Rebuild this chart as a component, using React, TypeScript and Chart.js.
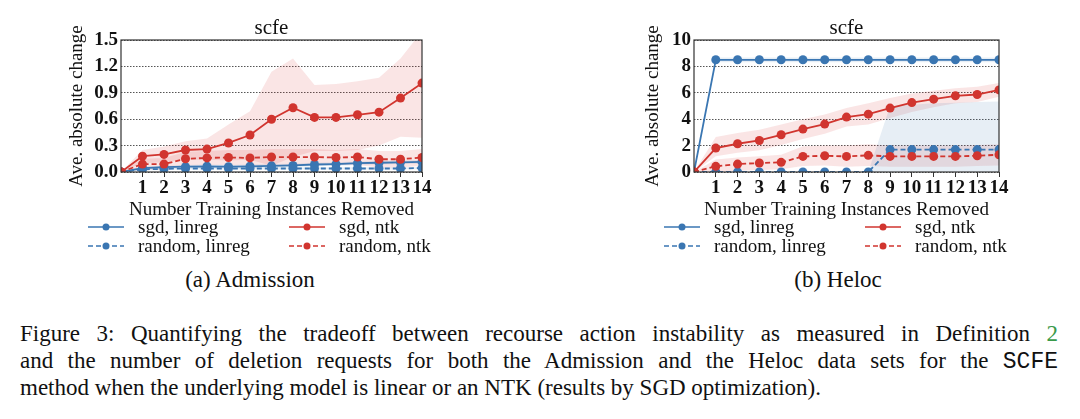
import React, { useEffect, useRef } from 'react';
import { Chart, registerables } from 'chart.js';

Chart.register(...registerables);

// ---------------- data ----------------
const xValues = [0, 1, 2, 3, 4, 5, 6, 7, 8, 9, 10, 11, 12, 13, 14];
const xTickValues = [1, 2, 3, 4, 5, 6, 7, 8, 9, 10, 11, 12, 13, 14];

const seriesLabels = ['sgd, linreg', 'random, linreg', 'sgd, ntk', 'random, ntk'];

// (a) Admission
const admYTicks = [0, 0.3, 0.6, 0.9, 1.2, 1.5];
const admSgdLin = [0, 0.045, 0.055, 0.06, 0.065, 0.06, 0.065, 0.07, 0.075, 0.085, 0.09, 0.1, 0.105, 0.11, 0.115];
const admSgdLinUpper = [0, 0.06, 0.07, 0.08, 0.085, 0.08, 0.085, 0.09, 0.095, 0.105, 0.11, 0.12, 0.125, 0.13, 0.135];
const admSgdLinLower = [0, 0.03, 0.04, 0.04, 0.045, 0.04, 0.045, 0.05, 0.055, 0.065, 0.07, 0.08, 0.085, 0.09, 0.095];
const admRandLin = [0, 0.03, 0.035, 0.04, 0.04, 0.04, 0.04, 0.04, 0.04, 0.04, 0.04, 0.04, 0.04, 0.04, 0.045];
const admRandLinUpper = [0, 0.042, 0.048, 0.053, 0.053, 0.053, 0.053, 0.053, 0.053, 0.053, 0.053, 0.053, 0.053, 0.053, 0.058];
const admRandLinLower = [0, 0.018, 0.022, 0.027, 0.027, 0.027, 0.027, 0.027, 0.027, 0.027, 0.027, 0.027, 0.027, 0.027, 0.032];
const admSgdNtk = [0, 0.18, 0.2, 0.25, 0.26, 0.33, 0.42, 0.6, 0.73, 0.62, 0.62, 0.65, 0.68, 0.84, 1.01];
const admSgdNtkUpper = [0, 0.25, 0.29, 0.35, 0.38, 0.54, 0.69, 1.14, 1.29, 0.99, 1.0, 1.03, 1.07, 1.29, 1.6];
const admSgdNtkLower = [0, 0.1, 0.11, 0.14, 0.14, 0.13, 0.14, 0.07, 0.17, 0.24, 0.24, 0.25, 0.3, 0.4, 0.39];
const admRandNtk = [0, 0.09, 0.09, 0.15, 0.16, 0.165, 0.16, 0.17, 0.17, 0.17, 0.165, 0.17, 0.145, 0.145, 0.165];
const admRandNtkUpper = [0, 0.15, 0.16, 0.23, 0.24, 0.25, 0.25, 0.26, 0.26, 0.26, 0.25, 0.26, 0.24, 0.24, 0.26];
const admRandNtkLower = [0, 0.03, 0.02, 0.07, 0.08, 0.08, 0.07, 0.08, 0.08, 0.08, 0.08, 0.08, 0.05, 0.05, 0.07];

// (b) Heloc
const helYTicks = [0, 2, 4, 6, 8, 10];
const helSgdLin = [0, 8.5, 8.5, 8.5, 8.5, 8.5, 8.5, 8.5, 8.5, 8.5, 8.5, 8.5, 8.5, 8.5, 8.5];
const helSgdLinUpper = [0, 8.68, 8.68, 8.68, 8.68, 8.68, 8.68, 8.68, 8.68, 8.68, 8.68, 8.68, 8.68, 8.68, 8.68];
const helSgdLinLower = [0, 8.32, 8.32, 8.32, 8.32, 8.32, 8.32, 8.32, 8.32, 8.32, 8.32, 8.32, 8.32, 8.32, 8.32];
const helRandLin = [0, 0, 0, 0, 0, 0, 0, 0, 0, 1.7, 1.7, 1.7, 1.7, 1.7, 1.7];
const helRandLinUpper = [0, 0, 0, 0, 0, 0, 0, 0, 0, 5.0, 5.1, 5.2, 5.25, 5.3, 5.35];
const helRandLinLower = [0, 0, 0, 0, 0, 0, 0, 0, 0, -1.6, -1.7, -1.8, -1.85, -1.9, -1.95];
const helSgdNtk = [0, 1.81, 2.14, 2.39, 2.82, 3.25, 3.63, 4.16, 4.38, 4.84, 5.26, 5.52, 5.77, 5.87, 6.22];
const helSgdNtkUpper = [0, 2.65, 2.95, 3.2, 3.6, 4.0, 4.35, 4.85, 5.2, 5.6, 5.95, 6.15, 6.35, 6.45, 6.75];
const helSgdNtkLower = [0, 1.2, 1.45, 1.65, 2.05, 2.5, 2.9, 3.45, 3.6, 4.1, 4.55, 4.9, 5.2, 5.3, 5.7];
const helRandNtk = [0, 0.43, 0.6, 0.68, 0.73, 1.18, 1.23, 1.18, 1.26, 1.18, 1.18, 1.18, 1.18, 1.23, 1.31];
const helRandNtkUpper = [0, 0.95, 1.1, 1.2, 1.3, 1.95, 2.0, 2.0, 2.1, 2.0, 2.0, 2.0, 2.0, 2.05, 2.1];
const helRandNtkLower = [0, 0.0, 0.1, 0.15, 0.2, 0.45, 0.5, 0.4, 0.45, 0.4, 0.4, 0.4, 0.4, 0.45, 0.5];

// ---------------- styles ----------------
const RED = '#d1352f';
const BLUE = '#3a76b2';
const RED_BAND = 'rgba(214,39,40,0.12)';
const BLUE_BAND = 'rgba(58,117,176,0.12)';
const SERIF = "'Liberation Serif', 'Times New Roman', serif";
const MONO = "'Liberation Mono', 'DejaVu Sans Mono', monospace";

type SeriesSpec = {
  label: string;
  color: string;
  band: string;
  dashed: boolean;
  values: number[];
  upper: number[];
  lower: number[];
};

type PanelSpec = {
  left: number;
  yAxisWidth: number;
  rightPad: number;
  yTicks: number[];
  decimals: number;
  series: SeriesSpec[];
};

const makeSeries = (
  sl: number[], slU: number[], slL: number[],
  rl: number[], rlU: number[], rlL: number[],
  sn: number[], snU: number[], snL: number[],
  rn: number[], rnU: number[], rnL: number[],
): SeriesSpec[] => [
  { label: seriesLabels[0], color: BLUE, band: BLUE_BAND, dashed: false, values: sl, upper: slU, lower: slL },
  { label: seriesLabels[1], color: BLUE, band: BLUE_BAND, dashed: true, values: rl, upper: rlU, lower: rlL },
  { label: seriesLabels[2], color: RED, band: RED_BAND, dashed: false, values: sn, upper: snU, lower: snL },
  { label: seriesLabels[3], color: RED, band: RED_BAND, dashed: true, values: rn, upper: rnU, lower: rnL },
];

const admission: PanelSpec = {
  left: 60,
  yAxisWidth: 61,
  rightPad: 18,
  yTicks: admYTicks,
  decimals: 1,
  series: makeSeries(
    admSgdLin, admSgdLinUpper, admSgdLinLower,
    admRandLin, admRandLinUpper, admRandLinLower,
    admSgdNtk, admSgdNtkUpper, admSgdNtkLower,
    admRandNtk, admRandNtkUpper, admRandNtkLower,
  ),
};

const heloc: PanelSpec = {
  left: 636,
  yAxisWidth: 58,
  rightPad: 17,
  yTicks: helYTicks,
  decimals: 0,
  series: makeSeries(
    helSgdLin, helSgdLinUpper, helSgdLinLower,
    helRandLin, helRandLinUpper, helRandLinLower,
    helSgdNtk, helSgdNtkUpper, helSgdNtkLower,
    helRandNtk, helRandNtkUpper, helRandNtkLower,
  ),
};

const CANVAS_W = 380;
const CANVAS_H = 262;

const DASH = [5, 3];

// ---------------- plugins ----------------
const framePlugin = {
  id: 'frame',
  afterDatasetsDraw(chart: any) {
    const { ctx, chartArea: a } = chart;
    ctx.save();
    ctx.strokeStyle = '#333';
    ctx.lineWidth = 1.2;
    ctx.setLineDash([]);
    ctx.strokeRect(a.left, a.top, a.right - a.left, a.bottom - a.top);
    ctx.restore();
  },
};

const titlePlugin = {
  id: 'panelTitle',
  afterDraw(chart: any) {
    const { ctx, chartArea: a } = chart;
    ctx.save();
    ctx.fillStyle = '#111';
    ctx.font = `21px ${SERIF}`;
    ctx.textAlign = 'center';
    ctx.textBaseline = 'middle';
    ctx.fillText('scfe', (a.left + a.right) / 2, a.top - 12);
    ctx.restore();
  },
};

const legendPlugin = {
  id: 'panelLegend',
  afterDraw(chart: any, _args: any, opts: any) {
    const { ctx } = chart;
    const items: SeriesSpec[] = opts.items || [];
    const cols = [28, 229];
    const rows = [227, 246];
    ctx.save();
    items.forEach((s, i) => {
      const col = i < 2 ? 0 : 1;
      const row = i % 2;
      const x0 = cols[col];
      const y = rows[row];
      ctx.strokeStyle = s.color;
      ctx.lineWidth = 1.6;
      ctx.setLineDash(s.dashed ? DASH : []);
      ctx.beginPath();
      ctx.moveTo(x0, y);
      ctx.lineTo(x0 + 36, y);
      ctx.stroke();
      ctx.setLineDash([]);
      ctx.fillStyle = s.color;
      ctx.beginPath();
      ctx.arc(x0 + 18, y, 3.5, 0, Math.PI * 2);
      ctx.fill();
      ctx.fillStyle = '#111';
      ctx.font = `19px ${SERIF}`;
      ctx.textAlign = 'left';
      ctx.textBaseline = 'middle';
      ctx.fillText(s.label, x0 + 50, y + 1);
    });
    ctx.restore();
  },
};

function buildConfig(spec: PanelSpec): any {
  const toPts = (arr: number[]) => xValues.map((x, j) => ({ x, y: arr[j] }));
  const lineOrder = [3, 2, 1, 0];
  const datasets: any[] = spec.series.map((s, i) => ({
    label: s.label,
    data: toPts(s.values),
    borderColor: s.color,
    backgroundColor: s.color,
    borderWidth: 1.8,
    borderDash: s.dashed ? DASH : [],
    pointRadius: 4.5,
    pointBorderWidth: 0,
    pointBackgroundColor: s.color,
    fill: false,
    tension: 0,
    clip: 0,
    order: lineOrder[i],
  }));
  spec.series.forEach((s) => {
    datasets.push({
      label: '_upper',
      data: toPts(s.upper),
      borderColor: 'rgba(0,0,0,0)',
      borderWidth: 0,
      pointRadius: 0,
      backgroundColor: s.band,
      fill: '+1',
      tension: 0,
      clip: 0,
      order: 10,
    });
    datasets.push({
      label: '_lower',
      data: toPts(s.lower),
      borderColor: 'rgba(0,0,0,0)',
      borderWidth: 0,
      pointRadius: 0,
      fill: false,
      tension: 0,
      clip: 0,
      order: 10,
    });
  });

  return {
    type: 'line',
    data: { datasets },
    plugins: [framePlugin, titlePlugin, legendPlugin],
    options: {
      responsive: false,
      animation: false,
      devicePixelRatio: 1,
      layout: { padding: { top: 40, left: 0, right: spec.rightPad, bottom: CANVAS_H - 172 - 53 } },
      plugins: {
        legend: { display: false },
        tooltip: { enabled: false },
        title: { display: false },
        filler: { drawTime: 'beforeDatasetsDraw' },
        panelLegend: { items: spec.series },
      },
      scales: {
        x: {
          type: 'linear',
          min: 0,
          max: 14,
          afterBuildTicks: (scale: any) => {
            scale.ticks = xTickValues.map((v) => ({ value: v }));
          },
          afterFit: (scale: any) => {
            scale.height = 53;
          },
          ticks: {
            autoSkip: false,
            maxRotation: 0,
            minRotation: 0,
            padding: 0,
            color: '#111',
            font: { family: SERIF, size: 19, weight: 'bold' },
            callback: (v: any) => String(v),
          },
          grid: {
            display: true,
            drawOnChartArea: false,
            drawTicks: true,
            tickLength: 5,
            tickColor: '#333',
            tickWidth: 1,
          },
          border: { display: false },
          title: {
            display: true,
            text: 'Number Training Instances Removed',
            color: '#111',
            font: { family: SERIF, size: 19 },
            padding: { top: 0, bottom: 4 },
          },
        },
        y: {
          type: 'linear',
          min: 0,
          max: spec.yTicks[spec.yTicks.length - 1],
          afterBuildTicks: (scale: any) => {
            scale.ticks = spec.yTicks.map((v) => ({ value: v }));
          },
          afterFit: (scale: any) => {
            scale.width = spec.yAxisWidth;
          },
          ticks: {
            padding: 3,
            color: '#111',
            font: { family: SERIF, size: 19, weight: 'bold' },
            callback: (v: any) => Number(v).toFixed(spec.decimals),
          },
          grid: {
            display: true,
            drawOnChartArea: true,
            drawTicks: false,
            color: '#555',
            lineWidth: 1,
          },
          border: { display: false, dash: [1.5, 1.5] },
          title: {
            display: true,
            text: 'Ave. absolute change',
            color: '#111',
            font: { family: SERIF, size: 19 },
            padding: { top: 6, bottom: 0 },
          },
        },
      },
    },
  };
}

function Panel({ spec }: { spec: PanelSpec }) {
  const ref = useRef<HTMLCanvasElement | null>(null);
  useEffect(() => {
    if (!ref.current) return;
    const chart = new Chart(ref.current, buildConfig(spec));
    return () => chart.destroy();
  }, [spec]);
  return (
    <canvas
      ref={ref}
      width={CANVAS_W}
      height={CANVAS_H}
      style={{ position: 'absolute', left: spec.left, top: 0, width: CANVAS_W, height: CANVAS_H }}
    />
  );
}

const captionLine: React.CSSProperties = {
  position: 'absolute',
  left: 20,
  width: 1038,
  fontSize: 23,
  lineHeight: '27px',
  whiteSpace: 'normal',
};

export default function App() {
  return (
    <div
      style={{
        position: 'fixed',
        left: 0,
        top: 0,
        width: 1080,
        height: 419,
        background: '#fff',
        fontFamily: SERIF,
        color: '#111',
        overflow: 'hidden',
      }}
    >
      <Panel spec={admission} />
      <Panel spec={heloc} />
      <div style={{ position: 'absolute', left: 100, width: 300, top: 267, textAlign: 'center', fontSize: 23, lineHeight: '26px' }}>
        (a) Admission
      </div>
      <div style={{ position: 'absolute', left: 688, width: 300, top: 267, textAlign: 'center', fontSize: 23, lineHeight: '26px' }}>
        (b) Heloc
      </div>
      <div style={{ ...captionLine, top: 320, textAlign: 'justify', textAlignLast: 'justify' }}>
        Figure 3: Quantifying the tradeoff between recourse action instability as measured in Definition{' '}
        <span style={{ color: '#3a9a4a' }}>2</span>
      </div>
      <div style={{ ...captionLine, top: 347, textAlign: 'justify', textAlignLast: 'justify' }}>
        and the number of deletion requests for both the Admission and the Heloc data sets for the{' '}
        <span style={{ fontFamily: MONO }}>SCFE</span>
      </div>
      <div style={{ ...captionLine, top: 374, textAlign: 'left' }}>
        method when the underlying model is linear or an NTK (results by SGD optimization).
      </div>
    </div>
  );
}
